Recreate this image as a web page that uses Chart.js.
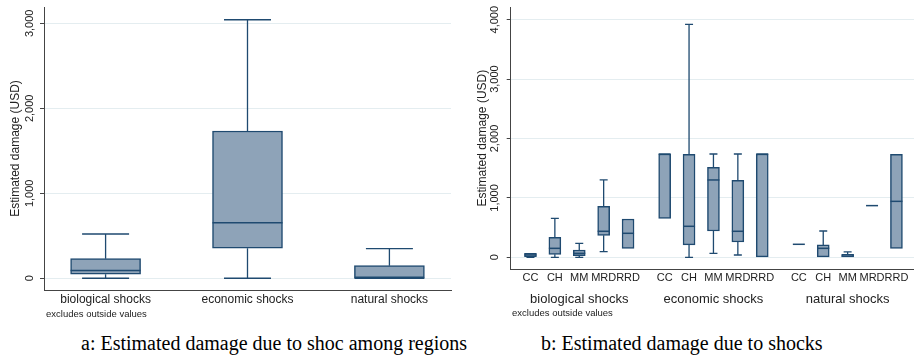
<!DOCTYPE html>
<html>
<head>
<meta charset="utf-8">
<script src="https://cdn.jsdelivr.net/npm/chart.js@4.4.1/dist/chart.umd.min.js"></script>
<style>
  body { margin: 0; background: #fff; width: 914px; height: 356px; position: relative; overflow: hidden; font-family: "Liberation Sans", Arial, sans-serif; }
  #wrapA { position: absolute; left: 0; top: 0; width: 458px; height: 322px; }
  #wrapB { position: absolute; left: 460px; top: 0; width: 454px; height: 322px; }
  .note { position: absolute; font-size: 9.5px; color: #222; white-space: nowrap; line-height: 10px; }
  .cap { position: absolute; font-family: "Liberation Serif", "Times New Roman", serif; font-size: 20px; color: #000; white-space: nowrap; line-height: 20px; }
</style>
</head>
<body>
<div id="wrapA"><canvas id="chartA" width="458" height="322"></canvas></div>
<div id="wrapB"><canvas id="chartB" width="454" height="322"></canvas></div>
<div class="note" style="left:46px; top:309px;">excludes outside values</div>
<div class="note" style="left:512px; top:308px;">excludes outside values</div>
<div class="cap" style="left:81px; top:333px;">a: Estimated damage due to shoc among regions</div>
<div class="cap" style="left:541px; top:333px;">b: Estimated damage due to shocks</div>

<script>
// ==============================
// Data
// ==============================
const shockTypes = ['biological shocks', 'economic shocks', 'natural shocks'];

// panel a: one box per shock type
const aLow  = [0, 0, 0];
const aQ1   = [47, 353, 0];
const aMed  = [90, 654, 0];
const aQ3   = [231, 1733, 148];
const aHigh = [521, 3042, 348];
const aYTicks = [0, 1000, 2000, 3000];

// panel b: shock type x region (CC, CH, MM, MRD, RRD)
const regions = ['CC', 'CH', 'MM', 'MRD', 'RRD'];
const bLow  = [0, 0, 0, 95, 151,     656, 0, 67, 39, 0,          219, 0, 0, 870, 151];
const bQ1   = [12, 50, 28, 370, 151, 656, 208, 443, 258, 0,      219, 0, 0, 870, 151];
const bMed  = [40, 151, 67, 438, 404, 1739, 522, 1302, 438, 1739, 219, 151, 22, 870, 942];
const bQ3   = [65, 337, 123, 858, 645, 1739, 1734, 1515, 1296, 1739, 219, 208, 50, 870, 1734];
const bHigh = [65, 656, 236, 1302, 645, 1739, 3921, 1739, 1739, 1739, 219, 443, 90, 870, 1734];
const bYTicks = [0, 1000, 2000, 3000, 4000];

// ==============================
// Styles
// ==============================
const FILL = '#8ea3b8';
const LINE = '#1f4a70';
const AXIS = '#444';
const GRID = '#e4edf0';
const TEXT = '#222';

Chart.defaults.font.family = '"Liberation Sans", Arial, sans-serif';
Chart.defaults.color = TEXT;
Chart.defaults.animation = false;

const fmt = v => v.toLocaleString('en-US');

// whiskers, caps and medians drawn from the quartile arrays through the chart scales
function boxPlot(pos, low, q1, med, q3, high, capW, boxW) {
  return {
    id: 'boxPlot',
    beforeDatasetsDraw(chart) {
      const { ctx, scales: { x, y } } = chart;
      ctx.save();
      ctx.strokeStyle = LINE;
      ctx.lineWidth = 1.3;
      pos.forEach((p, i) => {
        const cx = x.getPixelForValue(p);
        ctx.beginPath();
        if (high[i] > q3[i]) {
          const yh = y.getPixelForValue(high[i]);
          ctx.moveTo(cx, yh); ctx.lineTo(cx, y.getPixelForValue(q3[i]));
          ctx.moveTo(cx - capW / 2, yh); ctx.lineTo(cx + capW / 2, yh);
        }
        if (low[i] < q1[i]) {
          const yl = y.getPixelForValue(low[i]);
          ctx.moveTo(cx, yl); ctx.lineTo(cx, y.getPixelForValue(q1[i]));
          ctx.moveTo(cx - capW / 2, yl); ctx.lineTo(cx + capW / 2, yl);
        }
        ctx.stroke();
      });
      ctx.restore();
    },
    afterDatasetsDraw(chart) {
      const { ctx, scales: { x, y } } = chart;
      ctx.save();
      ctx.strokeStyle = LINE;
      ctx.lineWidth = 1.5;
      pos.forEach((p, i) => {
        const cx = x.getPixelForValue(p);
        const ym = y.getPixelForValue(med[i]);
        ctx.beginPath();
        ctx.moveTo(cx - boxW / 2, ym); ctx.lineTo(cx + boxW / 2, ym);
        ctx.stroke();
      });
      ctx.restore();
    }
  };
}

// vertical y tick labels (Stata style)
function yLabels(xPos) {
  return {
    id: 'yLabels',
    afterDraw(chart) {
      const { ctx, scales: { y } } = chart;
      ctx.save();
      ctx.font = '11px "Liberation Sans", Arial, sans-serif';
      ctx.fillStyle = TEXT;
      ctx.textAlign = 'center';
      ctx.textBaseline = 'middle';
      y.ticks.forEach(t => {
        ctx.save();
        ctx.translate(xPos, y.getPixelForValue(t.value));
        ctx.rotate(-Math.PI / 2);
        ctx.fillText(fmt(t.value), 0, 0);
        ctx.restore();
      });
      ctx.restore();
    }
  };
}

function yScale(min, max, ticks, width, titlePad) {
  return {
    min, max,
    afterBuildTicks: s => { s.ticks = ticks.map(v => ({ value: v })); },
    afterFit: s => { s.width = width; },
    ticks: { display: false },
    grid: { color: GRID, lineWidth: 1, drawTicks: true, tickLength: 4, tickColor: AXIS },
    border: { display: true, color: AXIS, width: 1 },
    title: { display: true, text: 'Estimated damage (USD)', font: { size: 12 }, color: TEXT, padding: { top: titlePad, bottom: 0 } }
  };
}

// ==============================
// Panel a
// ==============================
const aPos = shockTypes.map((_, i) => i);
new Chart(document.getElementById('chartA'), {
  type: 'bar',
  data: {
    datasets: [{
      data: aPos.map((p, i) => ({ x: p, y: [aQ1[i], aQ3[i]] })),
      backgroundColor: FILL,
      borderColor: LINE,
      borderWidth: 1.5,
      borderSkipped: false,
      barThickness: 70
    }]
  },
  options: {
    responsive: false,
    layout: { padding: { top: 7, right: 7, left: 0, bottom: 0 } },
    plugins: { legend: { display: false }, tooltip: { enabled: false } },
    scales: {
      x: {
        type: 'linear', min: -0.434, max: 2.434, offset: false,
        afterBuildTicks: s => { s.ticks = aPos.map(v => ({ value: v })); },
        afterFit: s => { s.height = 32; },
        ticks: { autoSkip: false, minRotation: 0, maxRotation: 0, padding: 2, font: { size: 12 }, color: TEXT,
                 callback: v => shockTypes[v] },
        grid: { display: false, drawTicks: false },
        border: { display: true, color: AXIS, width: 1 }
      },
      y: yScale(-138, 3192, aYTicks, 44, 8)
    }
  },
  plugins: [boxPlot(aPos, aLow, aQ1, aMed, aQ3, aHigh, 47, 70), yLabels(30)]
});

// ==============================
// Panel b
// ==============================
const bPos = [];
const bTickLabels = [];
shockTypes.forEach((_, g) => regions.forEach((r, i) => { bPos.push(g * 5.5 + i); bTickLabels.push(r); }));

const groupLabels = {
  id: 'groupLabels',
  afterDraw(chart) {
    const { ctx, scales: { x } } = chart;
    ctx.save();
    ctx.font = '13px "Liberation Sans", Arial, sans-serif';
    ctx.fillStyle = TEXT;
    ctx.textAlign = 'center';
    ctx.textBaseline = 'middle';
    shockTypes.forEach((s, g) => ctx.fillText(s, x.getPixelForValue(g * 5.5 + 2), 299));
    ctx.restore();
  }
};

new Chart(document.getElementById('chartB'), {
  type: 'bar',
  data: {
    datasets: [{
      data: bPos.map((p, i) => ({ x: p, y: [bQ1[i], bQ3[i]] })),
      backgroundColor: FILL,
      borderColor: LINE,
      borderWidth: 1.5,
      borderSkipped: false,
      barThickness: 12
    }]
  },
  options: {
    responsive: false,
    layout: { padding: { top: 7, right: 0, left: 0, bottom: 0 } },
    plugins: { legend: { display: false }, tooltip: { enabled: false } },
    scales: {
      x: {
        type: 'linear', min: -0.81, max: 15.72, offset: false,
        afterBuildTicks: s => { s.ticks = bPos.map(v => ({ value: v })); },
        afterFit: s => { s.height = 52.7; },
        ticks: { autoSkip: false, minRotation: 0, maxRotation: 0, padding: 2, font: { size: 11 }, color: TEXT,
                 callback: (v, idx) => bTickLabels[idx] },
        grid: { display: false, drawTicks: false },
        border: { display: true, color: AXIS, width: 1 }
      },
      y: yScale(-202, 4214, bYTicks, 50.7, 15.5)
    }
  },
  plugins: [boxPlot(bPos, bLow, bQ1, bMed, bQ3, bHigh, 8, 12), yLabels(35), groupLabels]
});
</script>
</body>
</html>
